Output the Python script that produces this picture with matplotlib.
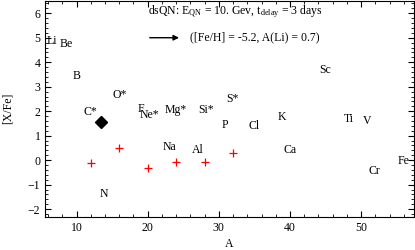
import matplotlib
matplotlib.use("Agg")
import matplotlib.pyplot as plt
from matplotlib.ticker import MultipleLocator

plt.rcParams["font.family"] = ["Liberation Serif", "DejaVu Serif"]
plt.rcParams["mathtext.fontset"] = "custom"
plt.rcParams["mathtext.rm"] = "Liberation Serif"
plt.rcParams["mathtext.it"] = "Liberation Serif"

# model points (red crosses)
model_A = [12, 16, 20, 24, 28, 32]
model_xfe = [-0.12, 0.49, -0.32, -0.08, -0.06, 0.29]

# observed point (black diamond)
obs_A = [13.5]
obs_xfe = [1.55]

# element labels placed at (A, [X/Fe])
elements = ["Li", "Be", "B", "C*", "N", "O*", "F", "Ne*", "Na", "Mg*", "Al",
            "Si*", "P", "S*", "Cl", "K", "Ca", "Sc", "Ti", "V", "Cr", "Fe"]
elem_A = [6.6, 8.6, 10.0, 12.0, 13.9, 16.0, 19.0, 20.3, 23.0, 23.9, 27.0,
          28.2, 30.9, 31.9, 35.0, 38.9, 40.0, 44.9, 48.3, 50.8, 51.8, 55.9]
elem_xfe = [4.86, 4.73, 3.43, 1.96, -1.39, 2.65, 2.1, 1.84, 0.53, 2.04, 0.41,
            2.04, 1.43, 2.49, 1.39, 1.76, 0.41, 3.67, 1.67, 1.6, -0.45, -0.04]

fig = plt.figure(figsize=(4.15, 2.5), dpi=100)
ax = fig.add_axes([0.109, 0.132, 0.888, 0.866])

ax.plot(model_A, model_xfe, "+", color="red", ms=6, mew=0.9)
ax.plot(obs_A, obs_xfe, "D", color="black", ms=6)

for name, a, v in zip(elements, elem_A, elem_xfe):
    ax.text(a, v, name, fontsize=8.5, ha="center", va="center")

ax.text(20.0, 6.05, r"dsQN: E$_{\rm QN}$ = 10. Gev, t$_{\rm delay}$ = 3 days",
        fontsize=8.5, ha="left", va="center")
ax.annotate("", xy=(24.8, 5.0), xytext=(19.9, 5.0),
            arrowprops=dict(arrowstyle="-|>", color="black", lw=1.0,
                            mutation_scale=8))
ax.text(26.0, 5.0, "([Fe/H] = -5.2, A(Li) = 0.7)",
        fontsize=8.5, ha="left", va="center")

ax.set_xlim(5.6, 57.4)
ax.set_ylim(-2.32, 6.52)
ax.xaxis.set_major_locator(MultipleLocator(10))
ax.xaxis.set_minor_locator(MultipleLocator(2))
ax.yaxis.set_major_locator(MultipleLocator(1))
ax.yaxis.set_minor_locator(MultipleLocator(0.2))
ax.tick_params(which="both", direction="in", top=True, right=True,
               labelsize=8.5)
ax.tick_params(which="major", length=4, width=0.8)
ax.tick_params(which="minor", length=2, width=0.6)
ax.set_xlabel("A", fontsize=8.5, labelpad=3)
ax.set_ylabel("[X/Fe]", fontsize=8.5, labelpad=10)

fig.savefig("out.png", dpi=100)
